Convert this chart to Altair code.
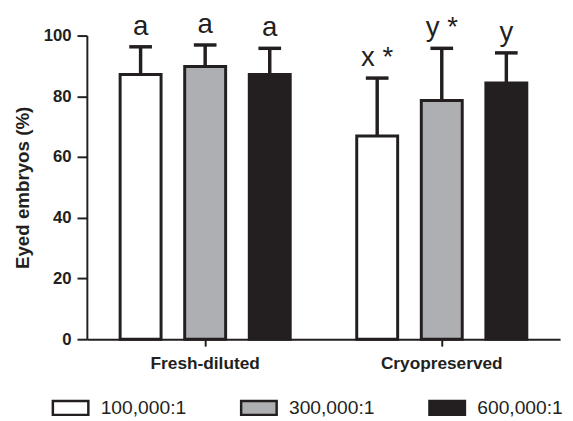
import altair as alt
import pandas as pd

groups = ["Fresh-diluted", "Cryopreserved"]
ratios = ["100,000:1", "300,000:1", "600,000:1"]
fresh_mean = [87.2, 89.8, 87.2]
fresh_upper = [96.3, 96.9, 95.8]
cryo_mean = [66.9, 78.6, 84.4]
cryo_upper = [86.0, 95.8, 94.3]
fresh_letters = ["a", "a", "a"]
cryo_letters = ["x *", "y *", "y"]
y_ticks = [0, 20, 40, 60, 80, 100]

rows = []
for g, means, uppers, letters in [
    (groups[0], fresh_mean, fresh_upper, fresh_letters),
    (groups[1], cryo_mean, cryo_upper, cryo_letters),
]:
    for r, m, u, l in zip(ratios, means, uppers, letters):
        rows.append({"group": g, "ratio": r, "mean": m, "upper": u, "letter": l})
df = pd.DataFrame(rows)

INK = "#231f20"
FONT = "Liberation Sans"

x_enc = alt.X("group:N", sort=groups, scale=alt.Scale(domain=groups, paddingInner=0, paddingOuter=0),
              axis=alt.Axis(title=None, labelAngle=0, labelFont=FONT, labelFontSize=17.5,
                            labelFontWeight="bold", labelColor=INK, tickSize=7, tickWidth=2,
                            tickColor=INK, domainColor=INK, domainWidth=2, labelPadding=9))
xo_enc = alt.XOffset("ratio:N", sort=ratios,
                     scale=alt.Scale(domain=ratios, paddingInner=0.366, paddingOuter=0.515))
y_scale = alt.Scale(domain=[0, 100], nice=False)

base = alt.Chart(df)

stems = base.mark_rule(color=INK, strokeWidth=3.5).encode(
    x=x_enc, xOffset=xo_enc,
    y=alt.Y("mean:Q", scale=y_scale),
    y2="upper:Q",
)

caps = base.mark_tick(color=INK, size=23, thickness=3.5, opacity=1).encode(
    x=x_enc, xOffset=xo_enc,
    y=alt.Y("upper:Q", scale=y_scale),
)

bars = base.mark_bar(stroke=INK, strokeWidth=3, opacity=1).encode(
    x=x_enc, xOffset=xo_enc,
    y=alt.Y("mean:Q", scale=y_scale,
            axis=alt.Axis(title="Eyed embryos (%)", values=y_ticks, format="d", grid=False,
                          labelFont=FONT, labelFontSize=17, labelFontWeight="bold", labelColor=INK,
                          tickSize=10, tickWidth=2, tickColor=INK, domainColor=INK, domainWidth=2,
                          labelPadding=6, titleFont=FONT, titleFontSize=19, titleFontWeight="bold",
                          titleColor=INK, titlePadding=11)),
    color=alt.Color("ratio:N", sort=ratios,
                    scale=alt.Scale(domain=ratios, range=["#ffffff", "#aeafb3", INK]),
                    legend=alt.Legend(title=None, orient="none", direction="horizontal",
                                      legendX=-36, legendY=358,
                                      symbolType="M-1,-0.39H1V0.39H-1Z", symbolSize=1296,
                                      symbolStrokeColor=INK, symbolStrokeWidth=2.5,
                                      symbolOpacity=1, labelFont=FONT, labelFontSize=19.5,
                                      labelColor=INK, labelOffset=11, columnPadding=50)),
)

texts = base.mark_text(font=FONT, fontSize=28, color=INK, baseline="alphabetic", dy=-12).encode(
    x=x_enc, xOffset=xo_enc,
    y=alt.Y("upper:Q", scale=y_scale),
    text="letter:N",
)

chart = alt.layer(stems, bars, caps, texts).properties(
    width=480, height=308,
    padding={"left": 80, "top": 25, "right": 5, "bottom": 80},
    autosize=alt.AutoSizeParams(type="none"),
    background="white",
).configure_view(stroke=None)

chart.save("out.html", embed_options={"renderer": "svg", "actions": False})
